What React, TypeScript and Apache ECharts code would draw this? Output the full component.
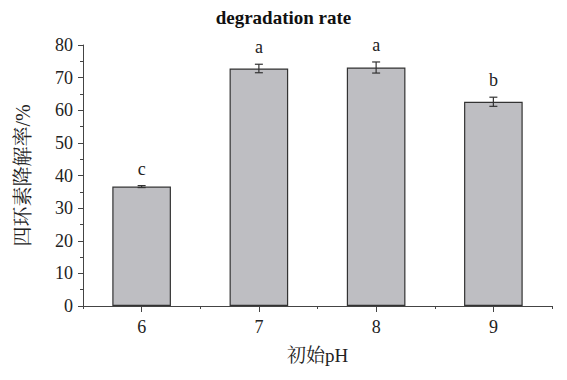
import React, { useEffect, useRef } from "react";
import * as echarts from "echarts";

const categories = ["6", "7", "8", "9"];
const values = [36.6, 72.8, 73.1, 62.6];
const errors = [0.3, 1.3, 1.7, 1.4];
const letters = ["c", "a", "a", "b"];

const SERIF = "'Liberation Serif', 'Times New Roman', 'Noto Serif CJK SC', 'Noto Sans CJK SC', serif";

export default function App() {
  const ref = useRef<HTMLDivElement>(null);
  useEffect(() => {
    if (!ref.current) return;
    const chart = echarts.init(ref.current, undefined, { renderer: "svg" });
    const errData = categories.map((_, i) => [i, values[i], errors[i], letters[i]]);
    chart.setOption({
      animation: false,
      backgroundColor: "#ffffff",
      title: {
        text: "degradation rate",
        left: "center",
        top: 3,
        textStyle: { fontFamily: SERIF, fontSize: 19, fontWeight: "bold", color: "#111" },
      },
      grid: { left: 83, right: 15, top: 45, bottom: 74 },
      xAxis: [
        {
          type: "category",
          data: categories,
          position: "bottom",
          axisLine: { show: true, lineStyle: { color: "#444", width: 1 } },
          axisTick: { show: true, alignWithLabel: true, length: 6, lineStyle: { color: "#444" } },
          axisLabel: { fontFamily: SERIF, fontSize: 18, color: "#222", margin: 12 },
          name: "初始pH",
          nameLocation: "middle",
          nameGap: 40,
          nameTextStyle: { fontFamily: SERIF, fontSize: 19, color: "#222" },
        },
        {
          type: "category",
          data: categories,
          position: "bottom",
          axisLine: { show: false },
          axisTick: { show: true, alignWithLabel: false, length: 3, lineStyle: { color: "#444" } },
          axisLabel: { show: false },
        },
      ],
      yAxis: {
        type: "value",
        min: 0,
        max: 80,
        interval: 10,
        axisLine: { show: true, lineStyle: { color: "#444", width: 1 } },
        axisTick: { show: true, length: 5, lineStyle: { color: "#444" } },
        minorTick: { show: true, splitNumber: 2, length: 3, lineStyle: { color: "#444" } },
        splitLine: { show: false },
        axisLabel: { fontFamily: SERIF, fontSize: 18, color: "#222", margin: 10 },
        name: "四环素降解率/%",
        nameLocation: "middle",
        nameGap: 50,
        nameTextStyle: { fontFamily: SERIF, fontSize: 20, color: "#222" },
      },
      series: [
        {
          type: "bar",
          data: values,
          barWidth: "50%",
          itemStyle: { color: "#bebec2", borderColor: "#333", borderWidth: 1.2 },
        },
        {
          type: "custom",
          data: errData,
          z: 10,
          renderItem: (params: any, api: any) => {
            const x = api.value(0);
            const v = api.value(1);
            const e = api.value(2);
            const letter = letters[params.dataIndex];
            const top = api.coord([x, v + e]);
            const bot = api.coord([x, v - e]);
            const cap = 4;
            const style = { stroke: "#333", lineWidth: 1.2 };
            return {
              type: "group",
              children: [
                { type: "line", shape: { x1: top[0], y1: top[1], x2: bot[0], y2: bot[1] }, style },
                { type: "line", shape: { x1: top[0] - cap, y1: top[1], x2: top[0] + cap, y2: top[1] }, style },
                { type: "line", shape: { x1: bot[0] - cap, y1: bot[1], x2: bot[0] + cap, y2: bot[1] }, style },
                {
                  type: "text",
                  x: top[0],
                  y: top[1] - 8,
                  style: {
                    text: letter,
                    fontFamily: SERIF,
                    fontSize: 18,
                    fill: "#222",
                    align: "center",
                    verticalAlign: "bottom",
                  },
                },
              ],
            };
          },
        },
      ],
    });
    return () => chart.dispose();
  }, []);
  return <div ref={ref} style={{ width: 567, height: 380, position: "absolute", left: 0, top: 0 }} />;
}
